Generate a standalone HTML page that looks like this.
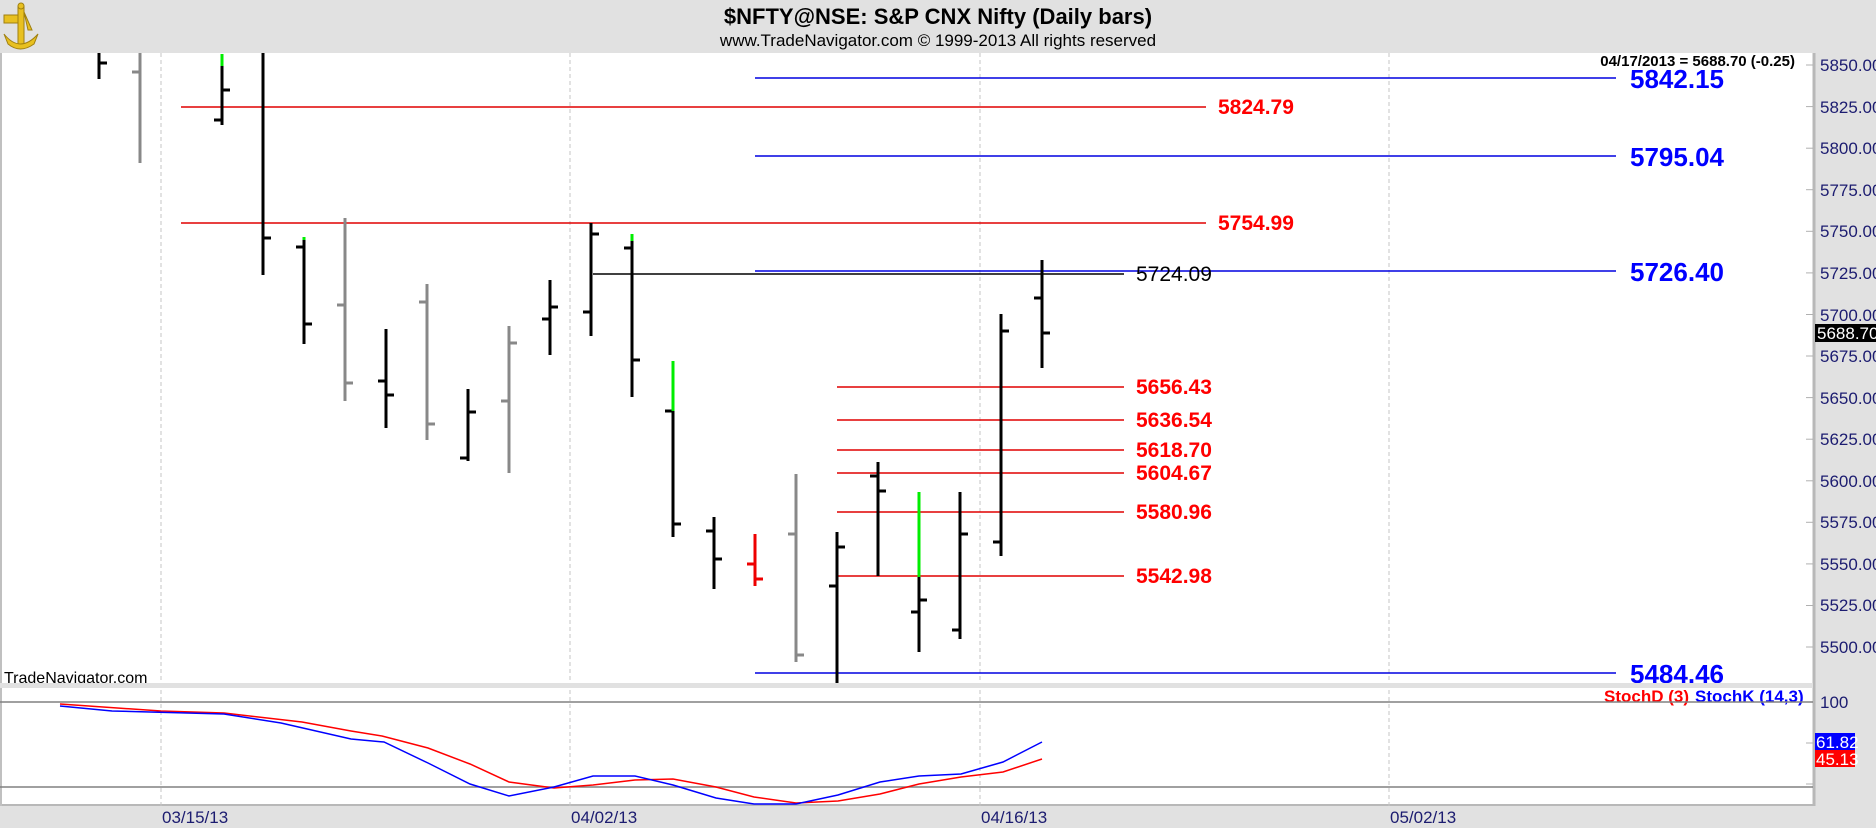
<!DOCTYPE html>
<html><head><meta charset="utf-8"><style>
html,body{margin:0;padding:0;width:1876px;height:828px;overflow:hidden;background:#e1e1e1}
svg{display:block}
text{font-family:"Liberation Sans",Arial,sans-serif}
</style></head><body>
<svg width="1876" height="828" viewBox="0 0 1876 828" xmlns="http://www.w3.org/2000/svg">
<rect x="0" y="0" width="1876" height="828" fill="#e1e1e1"/>
<!-- logo -->
<g fill="#e8c020" stroke="#a08010" stroke-width="1">
<rect x="4" y="15" width="14" height="8"/><rect x="18" y="6" width="6" height="40"/>
<path d="M4 34 Q20 54 38 34 L34 44 Q20 54 8 44Z"/><circle cx="21" cy="6" r="3"/>
<path d="M24 12 L32 30 L28 30 Z"/>
</g>
<text x="938" y="24" font-size="22" font-weight="bold" text-anchor="middle">$NFTY@NSE:  S&amp;P CNX Nifty  (Daily bars)</text>
<text x="938" y="46" font-size="17" text-anchor="middle">www.TradeNavigator.com © 1999-2013 All rights reserved</text>
<!-- panels -->
<rect x="0" y="53" width="1813" height="630" fill="#fff"/>
<rect x="0" y="688" width="1813" height="118" fill="#fff"/>
<line x1="1814" y1="53" x2="1814" y2="806" stroke="#b8b8b8" stroke-width="3"/>
<line x1="0" y1="805" x2="1813" y2="805" stroke="#b8b8b8" stroke-width="2"/>
<line x1="1" y1="53" x2="1" y2="806" stroke="#c0c0c0" stroke-width="2"/>
<g stroke="#c4c4c4" stroke-width="1" stroke-dasharray="4,3">
<line x1="161" y1="53" x2="161" y2="806"/><line x1="570" y1="53" x2="570" y2="806"/>
<line x1="980" y1="53" x2="980" y2="806"/><line x1="1389" y1="53" x2="1389" y2="806"/>
</g>
<!-- axis ticks -->
<g stroke="#b0b0b0" stroke-width="1">
<line x1="1806" y1="65" x2="1813" y2="65"/><line x1="1806" y1="106.6" x2="1813" y2="106.6"/><line x1="1806" y1="148.2" x2="1813" y2="148.2"/><line x1="1806" y1="189.7" x2="1813" y2="189.7"/><line x1="1806" y1="231.3" x2="1813" y2="231.3"/><line x1="1806" y1="272.9" x2="1813" y2="272.9"/><line x1="1806" y1="314.5" x2="1813" y2="314.5"/><line x1="1806" y1="356" x2="1813" y2="356"/><line x1="1806" y1="397.6" x2="1813" y2="397.6"/><line x1="1806" y1="439.2" x2="1813" y2="439.2"/><line x1="1806" y1="480.8" x2="1813" y2="480.8"/><line x1="1806" y1="522.3" x2="1813" y2="522.3"/><line x1="1806" y1="563.9" x2="1813" y2="563.9"/><line x1="1806" y1="605.5" x2="1813" y2="605.5"/><line x1="1806" y1="647" x2="1813" y2="647"/>
<line x1="1806" y1="702" x2="1813" y2="702"/><line x1="1806" y1="743" x2="1813" y2="743"/><line x1="1806" y1="784" x2="1813" y2="784"/>
</g>
<g font-size="17" fill="#1c1c70">
<text x="1820" y="71">5850.00</text><text x="1820" y="113">5825.00</text><text x="1820" y="154">5800.00</text><text x="1820" y="196">5775.00</text><text x="1820" y="237">5750.00</text><text x="1820" y="279">5725.00</text><text x="1820" y="321">5700.00</text><text x="1820" y="362">5675.00</text><text x="1820" y="404">5650.00</text><text x="1820" y="445">5625.00</text><text x="1820" y="487">5600.00</text><text x="1820" y="528">5575.00</text><text x="1820" y="570">5550.00</text><text x="1820" y="611">5525.00</text><text x="1820" y="653">5500.00</text>
<text x="1820" y="708">100</text>
</g>
<rect x="1815" y="324" width="61" height="18" fill="#000"/><text x="1817" y="339" font-size="17" fill="#fff">5688.70</text>
<rect x="1815" y="733" width="40" height="17" fill="#0000ff"/><text x="1816" y="748" font-size="17" fill="#fff">61.82</text>
<rect x="1815" y="750" width="40" height="17" fill="#ff0000"/><text x="1816" y="765" font-size="17" fill="#fff">45.13</text>
<!-- dates -->
<g font-size="17" fill="#1c1c70"><text x="162" y="823">03/15/13</text><text x="571" y="823">04/02/13</text><text x="981" y="823">04/16/13</text><text x="1390" y="823">05/02/13</text></g>
<!-- horizontal levels -->
<g stroke-width="1.5">
<line x1="181" y1="107" x2="1206" y2="107" stroke="#e00000"/>
<line x1="181" y1="223" x2="1206" y2="223" stroke="#e00000"/>
<line x1="593" y1="274" x2="1124" y2="274" stroke="#000"/>
<line x1="837" y1="387" x2="1124" y2="387" stroke="#e00000"/>
<line x1="837" y1="420" x2="1124" y2="420" stroke="#e00000"/>
<line x1="837" y1="450" x2="1124" y2="450" stroke="#e00000"/>
<line x1="837" y1="473" x2="1124" y2="473" stroke="#e00000"/>
<line x1="837" y1="512" x2="1124" y2="512" stroke="#e00000"/>
<line x1="837" y1="576" x2="1124" y2="576" stroke="#e00000"/>
<line x1="755" y1="78" x2="1616" y2="78" stroke="#0000e0"/>
<line x1="755" y1="156" x2="1616" y2="156" stroke="#0000e0"/>
<line x1="755" y1="271" x2="1616" y2="271" stroke="#0000e0"/>
<line x1="755" y1="673" x2="1616" y2="673" stroke="#0000e0"/>
</g>
<g font-size="21" font-weight="bold" fill="#ff0000">
<text x="1218" y="114">5824.79</text><text x="1218" y="230">5754.99</text>
<text x="1136" y="394">5656.43</text><text x="1136" y="427">5636.54</text><text x="1136" y="457">5618.70</text><text x="1136" y="480">5604.67</text><text x="1136" y="519">5580.96</text><text x="1136" y="583">5542.98</text>
</g>
<text x="1136" y="281" font-size="21" fill="#000">5724.09</text>
<g font-size="26" font-weight="bold" fill="#0000ff">
<text x="1630" y="88">5842.15</text><text x="1630" y="166">5795.04</text><text x="1630" y="281">5726.40</text><text x="1630" y="683">5484.46</text>
</g>
<text x="1795" y="66" font-size="15" font-weight="bold" text-anchor="end">04/17/2013 = 5688.70 (-0.25)</text>
<text x="4" y="683" font-size="16" fill="#000">TradeNavigator.com</text>
<rect x="0" y="683" width="1813" height="5" fill="#e1e1e1"/>
<text x="1604" y="702" font-size="17" font-weight="bold" fill="#ff0000">StochD (3)</text>
<text x="1695" y="702" font-size="17" font-weight="bold" fill="#0000ff">StochK (14,3)</text>
<!-- bars -->
<g stroke-width="3" fill="none">
<g stroke="#000"><path d="M99 53V79M99 63h8"/></g>
<g stroke="#888"><path d="M140 53V163M140 72h-8"/></g>
<g stroke="#000"><path d="M222 66V125M222 90h8M222 120h-8"/></g><path d="M222 54V66" stroke="#00ee00"/>
<g stroke="#000"><path d="M263 53V275M263 238h8"/></g>
<g stroke="#000"><path d="M304 240V344M304 247h-8M304 324h8"/></g><path d="M304 237V240" stroke="#00ee00"/>
<g stroke="#888"><path d="M345 218V401M345 305h-8M345 383h8"/></g>
<g stroke="#000"><path d="M386 329V428M386 381h-8M386 395h8"/></g>
<g stroke="#888"><path d="M427 284V440M427 302h-8M427 424h8"/></g>
<g stroke="#000"><path d="M468 389V461M468 458h-8M468 412h8"/></g>
<g stroke="#888"><path d="M509 326V473M509 401h-8M509 343h8"/></g>
<g stroke="#000"><path d="M550 280V355M550 319h-8M550 307h8"/></g>
<g stroke="#000"><path d="M591 223V336M591 312h-8M591 234h8"/></g>
<g stroke="#000"><path d="M632 241V397M632 248h-8M632 360h8"/></g><path d="M632 234V241" stroke="#00ee00"/>
<g stroke="#000"><path d="M673 411V537M673 411h-8M673 524h8"/></g><path d="M673 361V411" stroke="#00ee00"/>
<g stroke="#000"><path d="M714 517V589M714 531h-8M714 559h8"/></g>
<g stroke="#ee0000"><path d="M755 534V586M755 564h-8M755 579h8"/></g>
<g stroke="#888"><path d="M796 474V662M796 534h-8M796 655h8"/></g>
<g stroke="#000"><path d="M837 532V683M837 586h-8M837 547h8"/></g>
<g stroke="#000"><path d="M878 462V576M878 476h-8M878 491h8"/></g>
<g stroke="#000"><path d="M919 577V652M919 612h-8M919 600h8"/></g><path d="M919 492V577" stroke="#00ee00"/>
<g stroke="#000"><path d="M960 492V639M960 630h-8M960 534h8"/></g>
<g stroke="#000"><path d="M1001 314V556M1001 542h-8M1001 331h8"/></g>
<g stroke="#000"><path d="M1042 260V368M1042 298h-8M1042 333h8"/></g>
</g>
<!-- stoch -->
<line x1="0" y1="702" x2="1813" y2="702" stroke="#808080" stroke-width="1.5"/>
<line x1="0" y1="787" x2="1813" y2="787" stroke="#808080" stroke-width="1.5"/>
<polyline fill="none" stroke="#ff0000" stroke-width="1.5" points="60,704 161,711 224,713 302,722 351,731 382,736 428,748 470,764 509,782 554,788 593,785 635,780 673,779 716,787 754,797 796,803 838,801 880,794 919,784 961,777 1003,772 1042,759"/>
<polyline fill="none" stroke="#0000ff" stroke-width="1.5" points="60,706 112,711 224,714 281,723 351,739 384,742 428,763 470,784 509,796 554,787 593,776 635,776 673,785 716,798 754,804 796,804 838,795 880,782 919,776 961,774 1003,762 1042,742"/>
</svg>
</body></html>
